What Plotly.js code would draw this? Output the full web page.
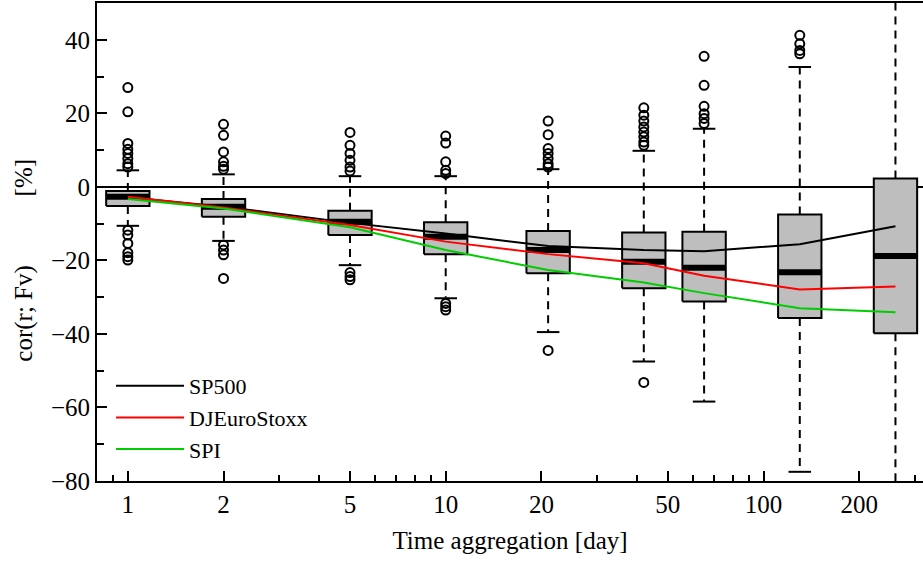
<!DOCTYPE html>
<html>
<head>
<meta charset="utf-8">
<script src="https://cdn.plot.ly/plotly-3.0.1.min.js"></script>
<style>html,body{margin:0;padding:0;background:#fff;}#chart{width:923px;height:561px;}</style>
</head>
<body>
<div id="chart"></div>
<script>
// ---- data ----
const days = [1, 2, 5, 10, 21, 42, 65, 130, 260];
const q1 = [-5.2, -8.1, -13.1, -18.3, -23.5, -27.6, -31.2, -35.7, -39.8];
const median = [-2.7, -5.4, -9.5, -13.6, -17.2, -20.4, -22.0, -23.2, -18.8];
const q3 = [-1.1, -3.3, -6.5, -9.6, -12.0, -12.4, -12.2, -7.5, 2.3];
const lowerWhisker = [-10.6, -14.7, -21.3, -30.3, -39.5, -47.5, -58.4, -77.5, -95];
const upperWhisker = [4.5, 3.4, 2.9, 2.9, 4.8, 9.8, 15.8, 32.6, 60];
const outliers = [
  [27.0, 20.4, 11.8, 10.2, 9.1, 7.7, 6.3, 5.4, -11.8, -13.1, -15.4, -17.9, -19.0, -19.9],
  [17.0, 14.0, 9.5, 6.8, 5.6, 4.8, -15.8, -17.2, -18.5, -24.9],
  [14.8, 11.3, 9.1, 7.2, 5.4, 4.3, -23.3, -24.4, -25.3],
  [13.8, 11.9, 6.8, 4.5, 3.6, -31.7, -32.6, -33.5],
  [17.9, 14.2, 10.4, 9.1, 7.7, 6.3, 5.4, -44.5],
  [21.5, 19.5, 17.9, 16.3, 14.9, 13.6, 12.2, 11.3, -53.2],
  [35.5, 27.6, 21.9, 19.9, 18.6, 17.2],
  [41.2, 38.9, 37.1, 36.2],
  []
];
const seriesNames = ["SP500", "DJEuroStoxx", "SPI"];
const sp500 = [-2.8, -5.4, -9.8, -12.7, -16.1, -17.2, -17.5, -15.6, -10.7];
const djEuroStoxx = [-2.7, -5.6, -10.4, -14.9, -18.3, -20.8, -24.2, -27.9, -27.1];
const spi = [-3.3, -5.9, -11.0, -17.2, -22.6, -26.0, -28.9, -33.0, -34.1];
const xTickVals = [1, 2, 5, 10, 20, 50, 100, 200];
const xTickText = ["1", "2", "5", "10", "20", "50", "100", "200"];
const xMinorVals = [0.9, 3, 4, 6, 7, 8, 9, 30, 40, 60, 70, 80, 90, 300];
const yTickVals = [-80, -60, -40, -20, 0, 20, 40];
const xTitle = "Time aggregation [day]";
const yTitleLeft = "cor(r; Fv)";
const yTitleRight = "[%]";

// ---- geometry helpers (log axis: constant pixel width = multiplicative factor) ----
const BOX_F = 1.17, CAP_F = 1.085;
const boxX = [], boxY = [], medX = [], medY = [], whX = [], whY = [], capX = [], capY = [];
days.forEach((d, i) => {
  boxX.push(d / BOX_F, d * BOX_F, d * BOX_F, d / BOX_F, d / BOX_F, null);
  boxY.push(q1[i], q1[i], q3[i], q3[i], q1[i], null);
  medX.push(d / BOX_F, d * BOX_F, null);
  medY.push(median[i], median[i], null);
  whX.push(d, d, null, d, d, null);
  whY.push(q3[i], upperWhisker[i], null, q1[i], lowerWhisker[i], null);
  capX.push(d / CAP_F, d * CAP_F, null, d / CAP_F, d * CAP_F, null);
  capY.push(upperWhisker[i], upperWhisker[i], null, lowerWhisker[i], lowerWhisker[i], null);
});
const outX = [], outY = [];
outliers.forEach((arr, i) => arr.forEach(v => { outX.push(days[i]); outY.push(v); }));

const FONT = "Liberation Serif";
const traces = [
  {x: whX, y: whY, mode: "lines", line: {color: "black", width: 2, dash: "8px,6px"}, showlegend: false, hoverinfo: "skip"},
  {x: capX, y: capY, mode: "lines", line: {color: "black", width: 2}, showlegend: false, hoverinfo: "skip"},
  {x: boxX, y: boxY, mode: "lines", fill: "toself", fillcolor: "#bebebe", line: {color: "black", width: 2}, showlegend: false, hoverinfo: "skip"},
  {x: medX, y: medY, mode: "lines", line: {color: "black", width: 6}, showlegend: false, hoverinfo: "skip"},
  {x: outX, y: outY, mode: "markers", marker: {symbol: "circle-open", size: 9, color: "black", line: {width: 2, color: "black"}}, showlegend: false, hoverinfo: "skip"},
  {x: days, y: sp500, name: seriesNames[0], mode: "lines", line: {color: "black", width: 2}},
  {x: days, y: djEuroStoxx, name: seriesNames[1], mode: "lines", line: {color: "#ff0000", width: 2}},
  {x: days, y: spi, name: seriesNames[2], mode: "lines", line: {color: "#00cd00", width: 2}}
];

const nb = "\u00a0";
const layout = {
  width: 923, height: 561,
  margin: {l: 97, r: 0, t: 3, b: 80},
  paper_bgcolor: "white", plot_bgcolor: "white",
  font: {family: FONT, size: 25, color: "black"},
  showlegend: true,
  legend: {x: 0.017, y: 0.2426, xanchor: "left", yanchor: "top", bgcolor: "rgba(0,0,0,0)", font: {family: FONT, size: 22, color: "black"}, itemwidth: 68, tracegroupgap: 0},
  xaxis: {
    type: "log", range: [-0.097, 2.5016],
    tickmode: "array", tickvals: xTickVals, ticktext: xTickText,
    ticks: "inside", ticklen: 10, tickwidth: 2, tickcolor: "black",
    minor: {tickmode: "array", tickvals: xMinorVals, ticks: "inside", ticklen: 6, tickwidth: 2, tickcolor: "black", showgrid: false},
    showline: true, linecolor: "black", linewidth: 2, mirror: true,
    showgrid: false, zeroline: false,
    tickfont: {family: FONT, size: 25, color: "black"},
    title: {text: xTitle, font: {family: FONT, size: 25, color: "black"}, standoff: 14}
  },
  yaxis: {
    range: [-80, 50],
    tickmode: "array", tickvals: yTickVals,
    ticks: "inside", ticklen: 10, tickwidth: 2, tickcolor: "black",
    minor: {dtick: 10, tick0: 0, ticks: "inside", ticklen: 7, tickwidth: 2, tickcolor: "black", showgrid: false},
    showline: true, linecolor: "black", linewidth: 2, mirror: false,
    showgrid: false, zeroline: true, zerolinecolor: "black", zerolinewidth: 2,
    tickfont: {family: FONT, size: 25, color: "black"}
  },
  annotations: [{
    text: yTitleLeft + nb.repeat(11) + yTitleRight,
    xref: "paper", yref: "paper", x: -0.0884, y: 0.463,
    xanchor: "center", yanchor: "middle", textangle: -90, showarrow: false,
    font: {family: FONT, size: 25, color: "black"}
  }]
};

Plotly.newPlot("chart", traces, layout, {displayModeBar: false, staticPlot: true});
</script>
</body>
</html>
